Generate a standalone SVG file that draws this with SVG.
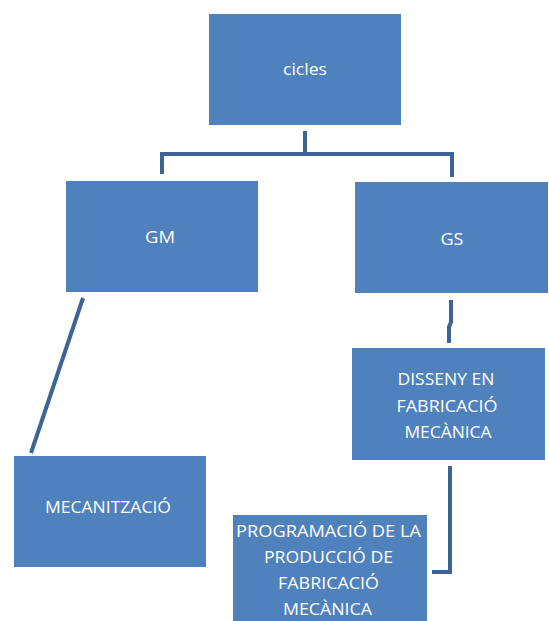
<svg xmlns="http://www.w3.org/2000/svg" width="549" height="621" viewBox="0 0 549 621">
<style>
.box{fill:#4f81bd;}
.t{font-family:"Open Sans","Liberation Sans",sans-serif;font-size:17px;fill:#ffffff;text-anchor:middle;}
.c{fill:none;stroke:#3c6597;stroke-width:4;}
</style>
<rect width="549" height="621" fill="#ffffff"/>
<g id="connectors">
<path class="c" d="M305,131 V154"/>
<path class="c" d="M162,174 V154 H452 V177"/>
<path class="c" d="M83,298 L31,453"/>
<path class="c" d="M451,300 V322 L449,327 V343"/>
<path class="c" d="M450,466 V572 H432"/>
</g>
<g id="cicles">
<rect class="box" x="209" y="14" width="192" height="111"/>
<text class="t" x="305" y="75" textLength="44" lengthAdjust="spacingAndGlyphs">cicles</text>
</g>
<g id="gm">
<rect class="box" x="66" y="181" width="192" height="111"/>
<text class="t" x="160" y="243" textLength="30" lengthAdjust="spacingAndGlyphs">GM</text>
</g>
<g id="gs">
<rect class="box" x="355" y="182" width="193" height="111"/>
<text class="t" x="452" y="245" textLength="23" lengthAdjust="spacingAndGlyphs">GS</text>
</g>
<g id="mecanitzacio">
<rect class="box" x="14" y="456" width="192" height="111"/>
<text class="t" x="108" y="513" textLength="126" lengthAdjust="spacingAndGlyphs">MECANITZACIÓ</text>
</g>
<g id="disseny">
<rect class="box" x="352" y="348" width="193" height="112"/>
<text class="t" x="446" y="385" textLength="97" lengthAdjust="spacingAndGlyphs">DISSENY EN</text>
<text class="t" x="447" y="412" textLength="101" lengthAdjust="spacingAndGlyphs">FABRICACIÓ</text>
<text class="t" x="448" y="438" textLength="87" lengthAdjust="spacingAndGlyphs">MECÀNICA</text>
</g>
<g id="programacio">
<rect class="box" x="233" y="515" width="194" height="110"/>
<text class="t" x="328.5" y="537" textLength="185" lengthAdjust="spacingAndGlyphs">PROGRAMACIÓ DE LA</text>
<text class="t" x="328.5" y="563" textLength="129" lengthAdjust="spacingAndGlyphs">PRODUCCIÓ DE</text>
<text class="t" x="328.5" y="589" textLength="101" lengthAdjust="spacingAndGlyphs">FABRICACIÓ</text>
<text class="t" x="327.5" y="615" textLength="89" lengthAdjust="spacingAndGlyphs">MECÀNICA</text>
</g>
</svg>
